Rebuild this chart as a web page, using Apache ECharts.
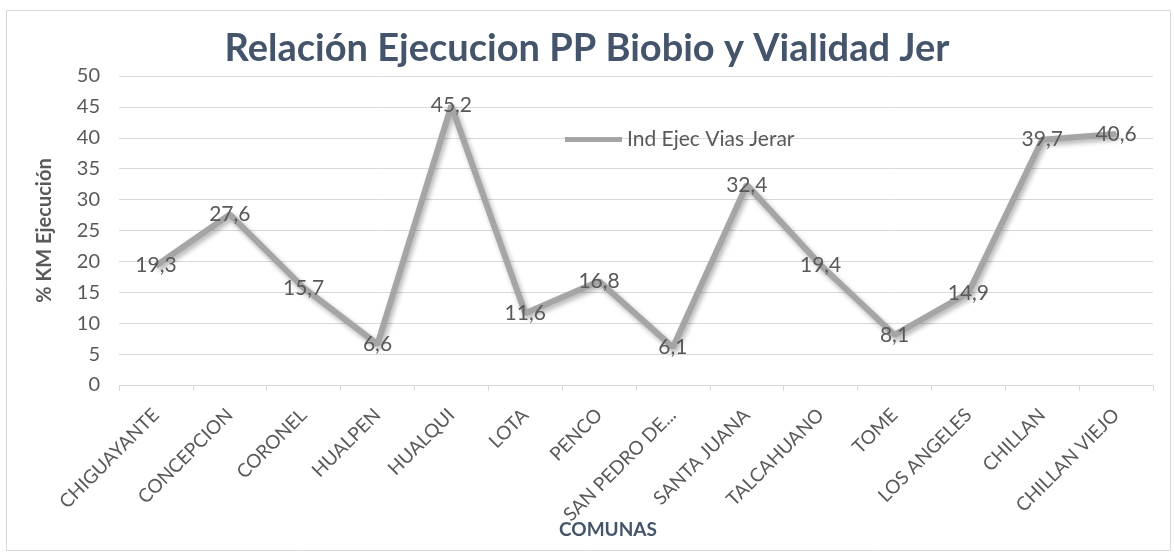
<!DOCTYPE html>
<html>
<head>
<meta charset="utf-8">
<script src="https://cdn.jsdelivr.net/npm/echarts@6/dist/echarts.min.js"></script>
<style>
  html, body { margin: 0; padding: 0; background: #fff; }
  #chart { width: 1174px; height: 555px; }
</style>
</head>
<body>
<div id="chart"></div>
<script>
const comunas = [
  "CHIGUAYANTE", "CONCEPCION", "CORONEL", "HUALPEN", "HUALQUI", "LOTA", "PENCO",
  "SAN PEDRO DE...", "SANTA JUANA", "TALCAHUANO", "TOME", "LOS ANGELES", "CHILLAN", "CHILLAN VIEJO",
];
const ejecucion = [19.3, 27.6, 15.7, 6.6, 45.2, 11.6, 16.8, 6.1, 32.4, 19.4, 8.1, 14.9, 39.7, 40.6];
const yTicks = { min: 0, max: 50, interval: 5 };

const seriesName = "Ind Ejec Vias Jerar";
const font = "Lato, 'Open Sans', sans-serif";
const gray = "#595959";
const slate = "#44546A";
const lineGray = "#a5a5a5";

function comma(v) {
  return String(v).replace(".", ",");
}

const chart = echarts.init(document.querySelector("#chart"));

chart.setOption({
  animation: false,
  textStyle: { fontFamily: font },
  graphic: [
    {
      type: "rect",
      shape: { x: 6.5, y: 10.5, width: 1164, height: 540 },
      style: { fill: "none", stroke: "#d9d9d9", lineWidth: 1 },
      silent: true,
    },
  ],
  title: {
    text: "Relación Ejecucion PP Biobio y Vialidad Jer",
    left: "center",
    top: 25,
    textStyle: { fontFamily: font, fontSize: 38, fontWeight: "bold", color: slate },
  },
  legend: {
    left: 560,
    top: 124,
    itemWidth: 57,
    itemHeight: 5,
    itemGap: 4,
    textStyle: { fontFamily: font, fontSize: 21, color: gray },
    data: [{ name: seriesName, icon: "rect", itemStyle: { color: lineGray } }],
  },
  grid: { left: 119, right: 21, top: 76, bottom: 170 },
  xAxis: {
    type: "category",
    data: comunas,
    boundaryGap: true,
    name: "COMUNAS",
    nameLocation: "middle",
    nameGap: 135,
    nameMoveOverlap: false,
    nameTextStyle: {
      fontFamily: font, fontSize: 19, fontWeight: "bold", color: slate,
      padding: [0, 56, 0, 0],
    },
    axisLine: { lineStyle: { color: "#d9d9d9", width: 1 } },
    axisTick: { show: true, length: 6, lineStyle: { color: "#d9d9d9" } },
    axisLabel: { rotate: 45, margin: 27, fontSize: 19, color: gray, fontFamily: font, interval: 0 },
  },
  yAxis: {
    type: "value",
    min: yTicks.min,
    max: yTicks.max,
    interval: yTicks.interval,
    name: "% KM Ejecución",
    nameLocation: "middle",
    nameGap: 64,
    nameTextStyle: { fontFamily: font, fontSize: 20, fontWeight: "bold", color: gray },
    axisLine: { show: false },
    axisTick: { show: false },
    axisLabel: { margin: 19, fontSize: 20, color: gray, fontFamily: font },
    splitLine: { lineStyle: { color: "#d9d9d9", width: 1 } },
  },
  series: [
    {
      name: seriesName,
      type: "line",
      symbol: "circle",
      symbolSize: 2,
      showSymbol: true,
      data: ejecucion,
      lineStyle: {
        color: lineGray,
        width: 6,
        shadowColor: "rgba(0,0,0,0.3)",
        shadowBlur: 5,
        shadowOffsetX: 2,
        shadowOffsetY: 3,
      },
      itemStyle: { color: lineGray },
      label: {
        show: true,
        position: "inside",
        fontSize: 21,
        color: gray,
        fontFamily: font,
        formatter: (p) => comma(p.value),
      },
    },
  ],
});
</script>
</body>
</html>
